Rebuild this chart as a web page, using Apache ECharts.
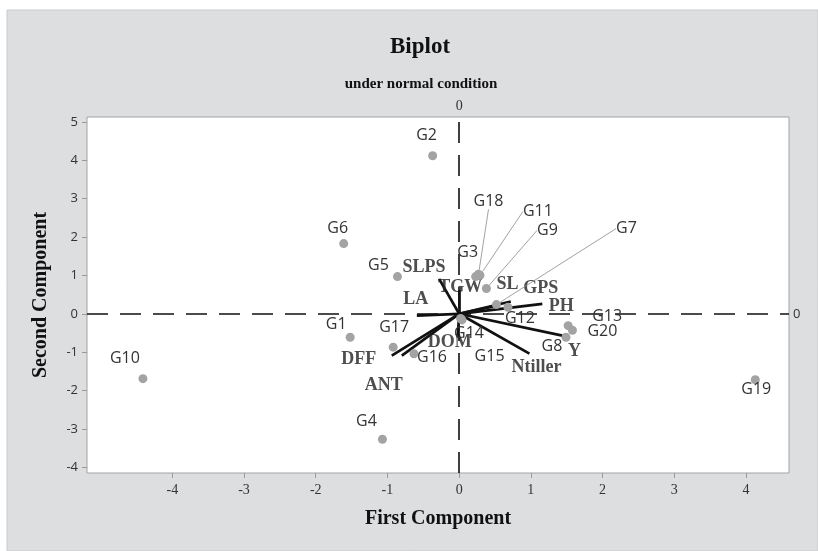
<!DOCTYPE html>
<html>
<head>
<meta charset="utf-8">
<script src="https://cdn.jsdelivr.net/npm/echarts@6/dist/echarts.min.js"></script>
<style>
  html, body { margin: 0; padding: 0; background: #fff; }
  #chart { width: 818px; height: 551px; }
</style>
</head>
<body>
<div id="chart"></div>
<script>
// genotype scores
const genotypes = ['G1', 'G2', 'G3', 'G4', 'G5', 'G6', 'G7', 'G8', 'G9', 'G10',
  'G11', 'G12', 'G13', 'G14', 'G15', 'G16', 'G17', 'G18', 'G19', 'G20'];
const pc1 = [-1.52, -0.37, 0.23, -1.07, -0.86, -1.61, 0.52, 1.49, 0.38, -4.41,
  0.29, 0.68, 1.52, 0.04, 0.02, -0.63, -0.92, 0.27, 4.13, 1.58];
const pc2 = [-0.61, 4.12, 0.97, -3.27, 0.97, 1.83, 0.24, -0.61, 0.66, -1.69,
  1.0, 0.17, -0.31, -0.16, -0.12, -1.04, -0.87, 1.03, -1.72, -0.43];

// trait loadings (vectors)
const traits = ['SLPS', 'TGW', 'LA', 'SL', 'GPS', 'PH', 'Ntiller', 'Y', 'DOM', 'DFF', 'ANT'];
const traitPc1 = [-0.28, 0.0, -0.59, 0.55, 0.72, 1.16, 0.98, 1.44, -0.02, -0.94, -0.8];
const traitPc2 = [0.91, 0.62, -0.05, 0.22, 0.32, 0.26, -1.04, -0.57, -0.62, -1.09, -1.09];

const xTicks = [-4, -3, -2, -1, 0, 1, 2, 3, 4];
const yTicks = [-4, -3, -2, -1, 0, 1, 2, 3, 4, 5];

// label offsets in pixels (layout only)
const ptOffset = {
  G1: [-14, -13], G2: [-6, -20], G3: [-8, -24], G4: [-16, -18], G5: [-19, -11],
  G6: [-6, -15], G7: [130, -76], G8: [-14, 9], G9: [61, -58], G10: [-18, -20],
  G11: [58, -64], G12: [12, 11], G13: [39, -9], G14: [7, 14], G15: [29, 38],
  G16: [18, 4], G17: [1, -20], G18: [10, -73], G19: [1, 10], G20: [30, 1]
};
const leaders = ['G7', 'G9', 'G11', 'G18'];
const vecOffset = {
  SLPS: [-15, -12], TGW: [1, -3], LA: [-1, -16], SL: [9, -21], GPS: [30, -13],
  PH: [19, 3], Ntiller: [7, 14], Y: [12, 16], DOM: [-8, 5], DFF: [-33, 4], ANT: [-18, 30]
};

const serif = '"Liberation Serif", "DejaVu Serif", serif';
const sans = '"Open Sans", "Noto Sans", sans-serif';

const chart = echarts.init(document.getElementById('chart'));

const pointData = genotypes.map((g, i) => ({
  name: g,
  value: [pc1[i], pc2[i]],
  labelLine: { show: leaders.includes(g) }
}));

const vecLines = traits.map((t, i) => ({
  coords: [[0, 0], [traitPc1[i], traitPc2[i]]]
}));

const vecEnds = traits.map((t, i) => ({ name: t, value: [traitPc1[i], traitPc2[i]] }));

chart.setOption({
  animation: false,
  graphic: [
    {
      type: 'rect', z: -10, silent: true,
      shape: { x: 7, y: 10, width: 811, height: 541 },
      style: { fill: '#dddee0', stroke: '#c9cacc', lineWidth: 1 }
    },
    {
      type: 'text', x: 420, y: 47, z: 10,
      style: { text: 'Biplot', textAlign: 'center', textVerticalAlign: 'middle',
        font: 'bold 23px ' + serif, fill: '#111' }
    },
    {
      type: 'text', x: 421, y: 84, z: 10,
      style: { text: 'under normal condition', textAlign: 'center', textVerticalAlign: 'middle',
        font: 'bold 15px ' + serif, fill: '#111' }
    }
  ],
  grid: {
    left: 87, top: 117, right: 29, bottom: 78,
    show: true, backgroundColor: '#fff', borderColor: '#a3a3a3', borderWidth: 1
  },
  xAxis: {
    type: 'value', min: -5.19, max: 4.6,
    name: 'First Component', nameLocation: 'middle', nameGap: 36,
    nameTextStyle: { fontFamily: serif, fontWeight: 'bold', fontSize: 20, color: '#111' },
    axisLine: { show: false, onZero: false },
    splitLine: { show: false },
    axisTick: { show: true, customValues: xTicks, length: 5, lineStyle: { color: '#999' } },
    axisLabel: { customValues: xTicks, margin: 10, fontFamily: serif, fontSize: 14, color: '#333' }
  },
  yAxis: {
    type: 'value', min: -4.15, max: 5.13,
    name: 'Second Component', nameLocation: 'middle', nameGap: 36,
    nameTextStyle: { fontFamily: serif, fontWeight: 'bold', fontSize: 20, color: '#111' },
    axisLine: { show: false, onZero: false },
    splitLine: { show: false },
    axisTick: { show: true, customValues: yTicks, length: 5, lineStyle: { color: '#999' } },
    axisLabel: { customValues: yTicks, margin: 9, fontFamily: sans, fontSize: 13, color: '#333' }
  },
  series: [
    {
      type: 'lines',
      coordinateSystem: 'cartesian2d',
      z: 3,
      silent: true,
      lineStyle: { color: '#111', width: 2.7, opacity: 1 },
      data: vecLines,
      markLine: {
        silent: true,
        symbol: 'none',
        lineStyle: { color: '#111', width: 1.6, type: [21, 12] },
        label: { show: true, position: 'end', formatter: '0', color: '#333', fontSize: 13 },
        data: [
          { xAxis: 0, label: { fontFamily: serif, fontSize: 14, distance: 4 } },
          { yAxis: 0, label: { fontFamily: sans, distance: 4 } }
        ]
      }
    },
    {
      type: 'scatter',
      z: 4,
      silent: true,
      symbolSize: 0.1,
      data: vecEnds,
      itemStyle: { color: 'transparent' },
      label: {
        show: true, position: 'inside', formatter: '{b}',
        fontFamily: serif, fontWeight: 'bold', fontSize: 18, color: '#222'
      },
      labelLayout: (p) => {
        const o = vecOffset[traits[p.dataIndex]];
        return { dx: o[0], dy: o[1] };
      }
    },
    {
      type: 'scatter',
      z: 5,
      silent: true,
      symbolSize: 9,
      itemStyle: { color: '#a3a3a3', opacity: 1 },
      data: pointData,
      label: {
        show: true, position: 'inside', formatter: '{b}',
        fontFamily: sans, fontSize: 16, color: '#333'
      },
      labelLine: { show: false, lineStyle: { color: '#8a8a8a', width: 0.8 } },
      labelLayout: (p) => {
        const o = ptOffset[genotypes[p.dataIndex]];
        return { dx: o[0], dy: o[1] };
      }
    }
  ]
});
</script>
</body>
</html>
